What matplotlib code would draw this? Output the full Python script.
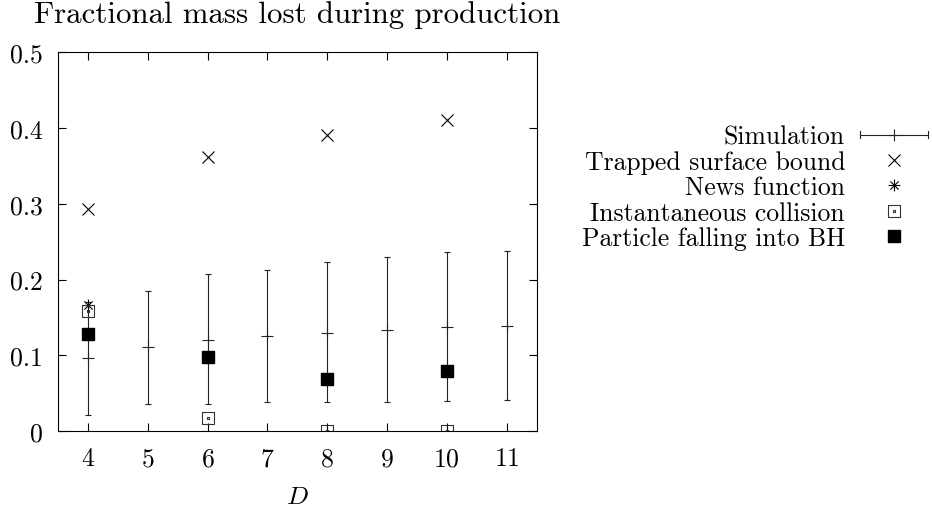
import matplotlib
matplotlib.use('Agg')
import matplotlib.pyplot as plt
from matplotlib.path import Path
from matplotlib.lines import Line2D
from matplotlib.legend_handler import HandlerBase

plt.rcParams['font.family'] = 'cmr10'
plt.rcParams['mathtext.fontset'] = 'cm'
plt.rcParams['axes.formatter.use_mathtext'] = True
plt.rcParams['font.size'] = 18.5

# data
dims = [4, 5, 6, 7, 8, 9, 10, 11]
sim = [0.096, 0.111, 0.121, 0.125, 0.130, 0.134, 0.137, 0.139]
sim_lo = [0.022, 0.036, 0.036, 0.038, 0.038, 0.038, 0.040, 0.041]
sim_hi = [0.170, 0.185, 0.207, 0.213, 0.223, 0.230, 0.236, 0.238]

dims_even = [4, 6, 8, 10]
trapped = [0.293, 0.361, 0.391, 0.411]
news_dims = [4]
news = [0.166]
inst = [0.159, 0.018, 0.0, 0.0]
particle = [0.128, 0.098, 0.069, 0.080]

yticks = [0, 0.1, 0.2, 0.3, 0.4, 0.5]
yticklabels = ['0', '0.1', '0.2', '0.3', '0.4', '0.5']

labels = ['Simulation', 'Trapped surface bound', 'News function',
          'Instantaneous collision', 'Particle falling into BH']

# gnuplot style point types
star = Path([(-1, 0), (1, 0), (0, -1), (0, 1), (-.7, -.7), (.7, .7), (-.7, .7), (.7, -.7)],
            [Path.MOVETO, Path.LINETO] * 4)
outer = Path([(-1, -1), (1, -1), (1, 1), (-1, 1), (-1, -1)],
             [Path.MOVETO, Path.LINETO, Path.LINETO, Path.LINETO, Path.CLOSEPOLY])
d = 0.1
inner = Path([(-d, -d), (d, -d), (d, d), (-d, d), (-d, -d)],
             [Path.MOVETO, Path.LINETO, Path.LINETO, Path.LINETO, Path.CLOSEPOLY])
boxdot = Path.make_compound_path(outer, inner)


class SimHandler(HandlerBase):
    def create_artists(self, legend, orig, xdescent, ydescent, width, height, fontsize, trans):
        y = height / 2. - ydescent
        x0 = -xdescent
        x1 = width - xdescent
        c = 2.5
        kw = dict(color='#222222', lw=0.8, transform=trans)
        arts = [Line2D([x0, x1], [y, y], **kw),
                Line2D([x0, x0], [y - c, y + c], **kw),
                Line2D([x1, x1], [y - c, y + c], **kw),
                Line2D([(x0 + x1) / 2.], [y], marker='+', ms=8, mew=0.8, ls='none',
                       color='#222222', transform=trans)]
        return arts


fig = plt.figure(figsize=(9.32, 5.10), dpi=100)
ax = fig.add_axes([58 / 932., 1 - 432.3 / 510., (536.5 - 58) / 932., (432.3 - 53) / 510.])

yerr = [[s - l for s, l in zip(sim, sim_lo)], [h - s for s, h in zip(sim, sim_hi)]]
simplot = ax.errorbar(dims, sim, yerr=yerr, fmt='+', ms=8, mew=0.8, color='#222222',
                      elinewidth=0.8, capsize=2.5, capthick=0.8)
tp, = ax.plot(dims_even, trapped, 'x', ms=8.5, mew=0.8, color='black')
nw, = ax.plot(news_dims, news, ls='none', marker=star, ms=8.5, mew=0.8, color='black')
ic, = ax.plot(dims_even, inst, ls='none', marker=boxdot, ms=8.5, mew=0.8,
              color='#333333', mfc='none')
pf, = ax.plot(dims_even, particle, 's', ms=8.5, color='black')

ax.set_xlim(3.5, 11.5)
ax.set_ylim(0, 0.5)
ax.set_xticks(dims)
ax.set_yticks(yticks)
ax.set_yticklabels(yticklabels)
ax.tick_params(direction='in', length=5.5, width=0.8, top=True, right=True, pad=11)
for sp in ax.spines.values():
    sp.set_linewidth(0.8)

ax.set_title('Fractional mass lost during production', pad=21.5)
ax.set_xlabel('$D$', va='baseline')
ax.xaxis.set_label_coords(0.5, -0.19)

proxy = Line2D([], [])
ax.legend([proxy, tp, nw, ic, pf], labels, handler_map={proxy: SimHandler()},
          loc='center right', bbox_to_anchor=(928 / 932., 1 - 188.5 / 510.),
          bbox_transform=fig.transFigure, frameon=False, markerfirst=False,
          handlelength=2.65, handletextpad=0.58, labelspacing=0.06,
          borderpad=0, borderaxespad=0, numpoints=1)

fig.savefig('out.png', dpi=100)
